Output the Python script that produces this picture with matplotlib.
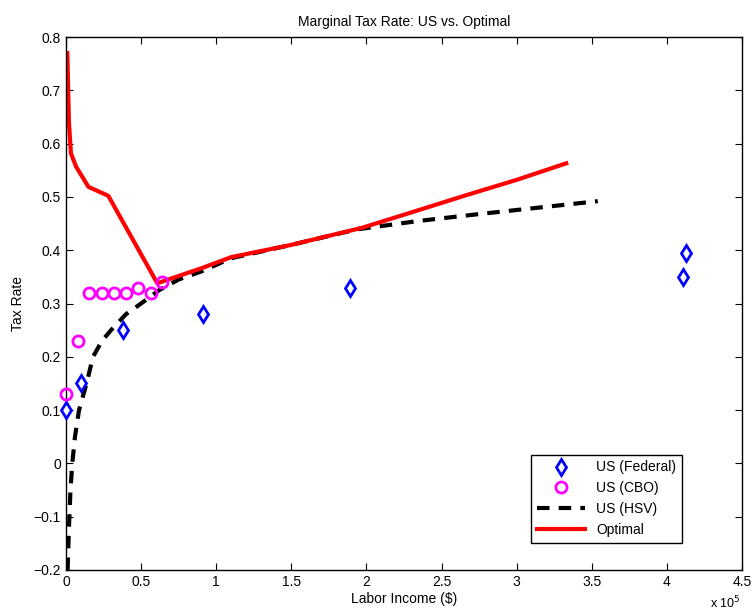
import numpy as np
import matplotlib.pyplot as plt

plt.rcParams['font.family'] = ['Liberation Sans', 'DejaVu Sans']

# Data (labor income in units of 1e5 dollars)
fed_x = [0.0, 0.10, 0.38, 0.91, 1.89, 4.11, 4.13]
fed_y = [0.10, 0.15, 0.25, 0.28, 0.33, 0.35, 0.395]

cbo_x = [0.0, 0.08, 0.155, 0.237, 0.32, 0.40, 0.48, 0.564, 0.641]
cbo_y = [0.13, 0.23, 0.32, 0.32, 0.32, 0.32, 0.33, 0.32, 0.34]

hsv_x = [0.011, 0.02, 0.03, 0.042, 0.06, 0.087, 0.137, 0.18, 0.24, 0.30, 0.40,
         0.50, 0.62, 0.75, 0.90, 1.10, 1.50, 1.935, 2.35, 2.756, 3.15, 3.54]
hsv_y = [-0.20, -0.12, -0.05, 0.0, 0.05, 0.10, 0.15, 0.20, 0.23, 0.25, 0.28,
         0.30, 0.325, 0.345, 0.36, 0.385, 0.41, 0.439, 0.455, 0.468, 0.48, 0.492]

opt_x = [0.009, 0.02, 0.033, 0.067, 0.149, 0.282, 0.608, 0.90, 1.10, 1.50, 1.97,
         2.30, 2.65, 3.00, 3.33]
opt_y = [0.77, 0.638, 0.582, 0.557, 0.519, 0.502, 0.338, 0.366, 0.387, 0.41, 0.442,
         0.471, 0.502, 0.532, 0.563]

fig = plt.figure(figsize=(7.53, 6.14), dpi=100)
ax = fig.add_axes([0.0876, 0.0717, 0.8978, 0.868])

scale = 1e5
ax.plot(np.array(fed_x) * scale, fed_y, 'd', color='blue', markerfacecolor='white',
        markeredgewidth=2, markersize=8, linestyle='none', label='US (Federal)',
        clip_on=False, zorder=4)
ax.plot(np.array(cbo_x) * scale, cbo_y, 'o', color='magenta', markerfacecolor='none',
        markeredgewidth=2, markersize=8, linestyle='none', label='US (CBO)',
        clip_on=False, zorder=4)
ax.plot(np.array(hsv_x) * scale, hsv_y, '--', color='black', linewidth=3,
        dashes=(3, 2.2), label='US (HSV)')
ax.plot(np.array(opt_x) * scale, opt_y, '-', color='red', linewidth=3, label='Optimal')

ax.set_xlim(0, 4.5e5)
ax.set_ylim(-0.2, 0.8)
ax.set_xticks(np.arange(0, 4.51e5, 0.5e5))
ax.set_xticklabels(['0', '0.5', '1', '1.5', '2', '2.5', '3', '3.5', '4', '4.5'])
ax.set_yticks(np.arange(-0.2, 0.81, 0.1))
ax.set_yticklabels(['\u22120.2', '\u22120.1', '0', '0.1', '0.2', '0.3', '0.4', '0.5',
                    '0.6', '0.7', '0.8'])
ax.tick_params(direction='in', top=True, right=True, labelsize=10, length=5)
for s in ax.spines.values():
    s.set_linewidth(1)

ax.set_title('Marginal Tax Rate: US vs. Optimal', fontsize=10, pad=8)
ax.set_xlabel('Labor Income ($)', fontsize=10, labelpad=2)
ax.set_ylabel('Tax Rate', fontsize=10, labelpad=6)
ax.text(0.998, -0.046, 'x 10$^5$', transform=ax.transAxes, ha='right', va='top',
        fontsize=9)

leg = ax.legend(loc='lower right', bbox_to_anchor=(0.911, 0.051), borderaxespad=0,
                fancybox=False, edgecolor='black', fontsize=10, handlelength=3.5,
                framealpha=1)
leg.get_frame().set_linewidth(1)

fig.savefig('out.png', dpi=100)
